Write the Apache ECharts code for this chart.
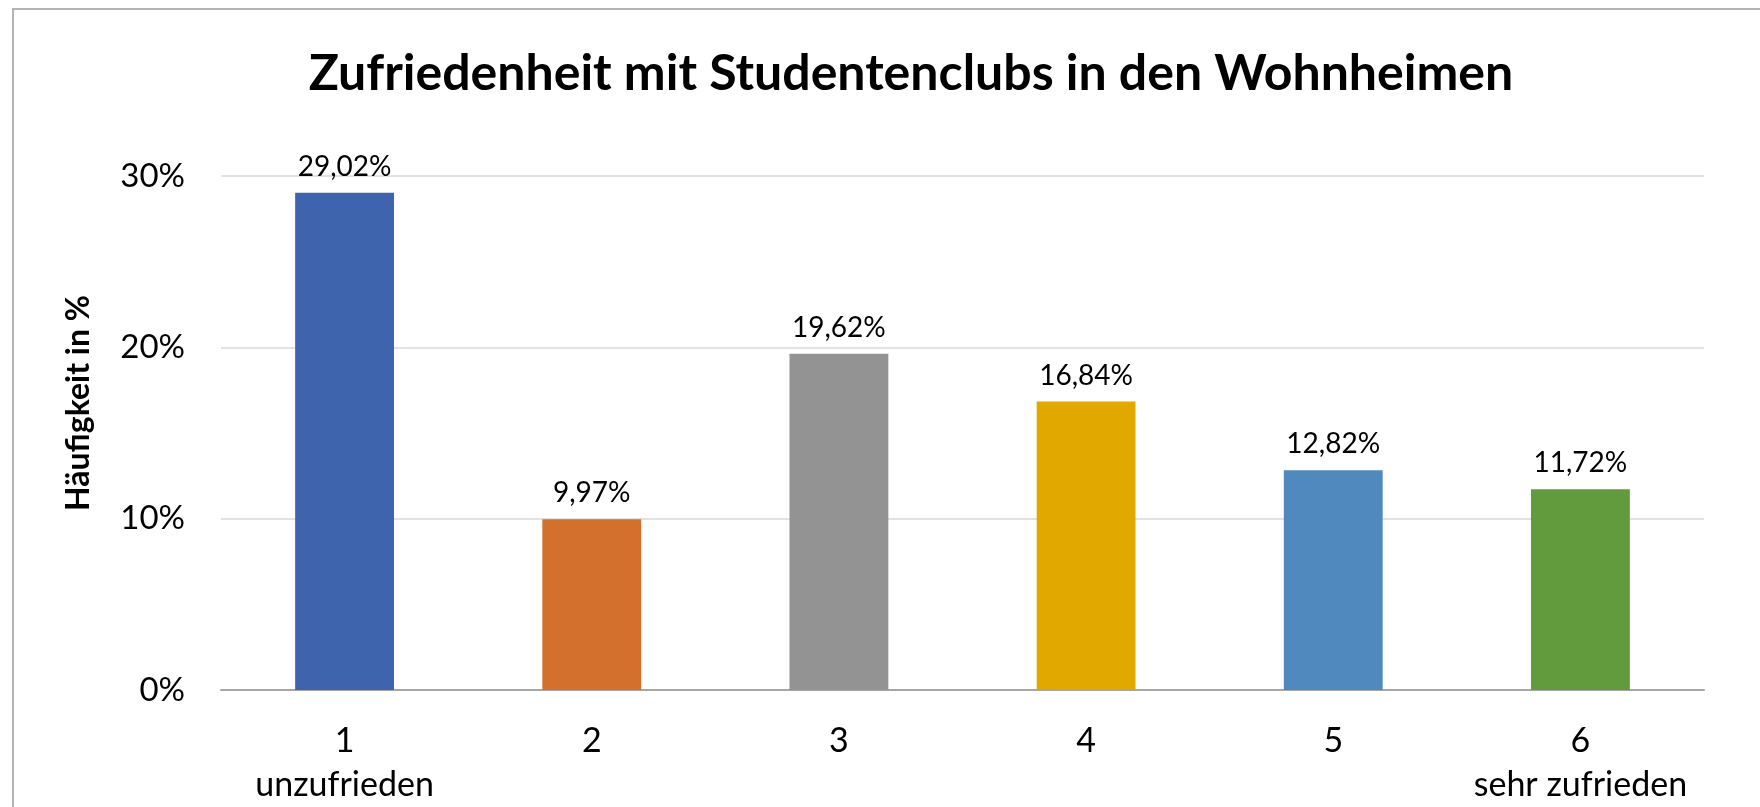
<!DOCTYPE html>
<html>
<head>
<meta charset="utf-8">
<script src="https://cdn.jsdelivr.net/npm/echarts@6/dist/echarts.min.js"></script>
<style>
  html, body { margin: 0; padding: 0; background: #ffffff; }
  #chart { width: 1760px; height: 807px; }
</style>
</head>
<body>
<div id="chart"></div>
<script>
// Daten
var categories = ["1\nunzufrieden", "2", "3", "4", "5", "6\nsehr zufrieden"];
var values = [29.02, 9.97, 19.62, 16.84, 12.82, 11.72];
var barColors = ["#3d64ad", "#d4702d", "#939393", "#e1a900", "#4f89be", "#629a3e"];
var yTicks = [0, 10, 20, 30];

var myChart = echarts.init(document.getElementById("chart"));
var font = "Lato, 'Open Sans', sans-serif";

var option = {
  backgroundColor: "#ffffff",
  animation: false,
  textStyle: { fontFamily: font },
  title: {
    text: "Zufriedenheit mit Studentenclubs in den Wohnheimen",
    left: 906,
    top: 44,
    textAlign: "center",
    textStyle: { fontFamily: font, fontSize: 50, fontWeight: "bold", color: "#000000" }
  },
  graphic: [
    {
      type: "rect",
      shape: { x: 13, y: 9, width: 1800, height: 900 },
      style: { fill: "none", stroke: "#b4b4b4", lineWidth: 2 },
      silent: true
    }
  ],
  grid: { left: 221, right: 56, top: 176, bottom: 117 },
  xAxis: {
    type: "category",
    data: categories,
    axisLine: { show: true, lineStyle: { color: "#a6a6a6", width: 2 } },
    axisTick: { show: false },
    axisLabel: {
      interval: 0,
      margin: 29,
      fontSize: 34,
      lineHeight: 44,
      color: "#000000",
      fontFamily: font
    }
  },
  yAxis: {
    type: "value",
    min: yTicks[0],
    max: yTicks[yTicks.length - 1],
    interval: 10,
    name: "Häufigkeit in %",
    nameLocation: "middle",
    nameGap: 126,
    nameTextStyle: {
      fontFamily: font,
      fontSize: 32,
      fontWeight: "bold",
      color: "#000000",
      padding: [0, 0, 0, 60]
    },
    axisLine: { show: false },
    axisTick: { show: false },
    splitLine: { show: true, lineStyle: { color: "#d9d9d9", width: 1.5 } },
    axisLabel: {
      margin: 36,
      fontSize: 33,
      color: "#000000",
      fontFamily: font,
      formatter: "{value}%"
    }
  },
  series: [
    {
      type: "bar",
      barWidth: "40%",
      data: values.map(function (v, i) {
        return { value: v, itemStyle: { color: barColors[i] } };
      }),
      label: {
        show: true,
        position: "top",
        distance: 12,
        fontSize: 28,
        color: "#000000",
        fontFamily: font,
        formatter: function (p) {
          return p.value.toFixed(2).replace(".", ",") + "%";
        }
      }
    }
  ]
};

myChart.setOption(option);
</script>
</body>
</html>
